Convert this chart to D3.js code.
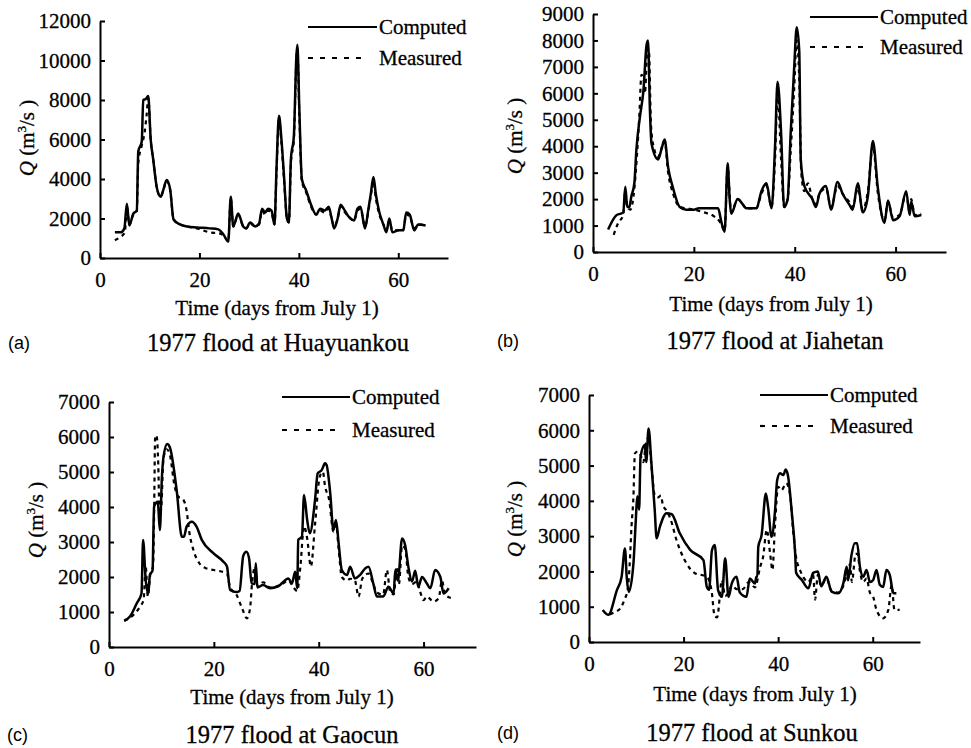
<!DOCTYPE html>
<html>
<head>
<meta charset="utf-8">
<script src="https://cdn.jsdelivr.net/npm/d3@7"></script>
<style>
  body { margin: 0; background: #fff; }
  svg text { font-family: "Liberation Serif", "Times New Roman", serif; fill: #000; stroke: #000; stroke-width: 0.3px; }
  .tag { font-family: "Liberation Sans", Arial, sans-serif; stroke-width: 0; }
  .axis path, .axis line { stroke: #000; stroke-width: 2; }
</style>
</head>
<body>
<svg id="chart" width="971" height="748"></svg>
<script>
// discharge Q (m3/s) vs time (days from July 1), 1977 flood
const xTicks = [0, 20, 40, 60];

const huayuankouComputed = [[3,1300],[4.2,1300],[4.9,1500],[5.4,2750],[5.9,1650],[6.7,2250],[7.4,2400],[7.7,5400],[8.4,5900],[8.7,8000],[9.2,8050],[9.7,8200],[10.2,6000],[10.7,5000],[11.4,3600],[12.2,3100],[12.8,3500],[13.4,3950],[14.1,3500],[14.8,1950],[16.1,1700],[17.5,1600],[19.5,1550],[22,1500],[23.8,1450],[24.8,1200],[25.8,830],[26.3,3100],[26.8,1600],[27.8,2250],[28.8,1600],[29.4,1500],[30.2,1800],[31.2,1600],[32,1750],[32.6,2500],[33.2,2300],[33.8,2500],[34.5,2400],[35.1,1700],[35.5,4500],[36,7200],[36.5,6000],[37,4200],[37.6,2000],[38,1800],[38.4,5000],[39,6200],[39.5,10200],[39.7,10800],[40.1,7500],[40.6,4000],[41.5,3400],[42.3,2800],[43.5,2200],[44.3,2500],[45.2,2400],[46,2600],[46.6,2000],[47.1,1500],[47.8,2000],[48.4,2700],[49,2500],[50,2100],[51.1,1900],[51.8,2500],[52.4,2600],[53.3,1500],[54,2500],[54.5,3300],[55,4100],[55.5,3200],[56.2,2300],[57,1700],[57.6,1300],[58.2,2000],[58.8,1300],[60,1400],[61,1400],[61.6,2300],[62.3,2200],[63.2,1400],[64,1700],[65.5,1650]];
const huayuankouMeasured = [[3,900],[4,1050],[5,1300],[5.4,2600],[5.9,1700],[6.7,2200],[7.4,2350],[7.7,4800],[8.4,5700],[9,6400],[9.4,7300],[9.7,8100],[10.2,6000],[10.7,5000],[11.4,3600],[12.2,3100],[12.8,3500],[13.4,3900],[14.1,3450],[14.8,1950],[16.1,1700],[17.5,1600],[19.5,1500],[22,1300],[24,1250],[25,1100],[25.8,850],[26.3,3000],[26.8,1600],[27.8,2200],[28.8,1600],[29.4,1500],[30.2,1750],[31.2,1600],[32,1700],[32.6,2400],[33.2,2200],[33.8,2400],[34.5,2300],[35.1,1700],[35.5,4300],[36,7000],[36.5,5800],[37,4000],[37.6,2000],[38,1800],[38.4,4800],[39,6000],[39.5,10000],[39.7,10600],[40.1,7200],[40.6,3900],[41.5,3300],[42.3,2700],[43.5,2200],[44.3,2400],[45.2,2300],[46,2500],[46.6,2000],[47.1,1600],[47.8,2000],[48.4,2600],[49,2400],[50,2100],[51.1,1900],[51.8,2400],[52.4,2500],[53.3,1600],[54,2400],[54.5,3200],[55,3900],[55.5,3000],[56.2,2200],[57,1700],[57.6,1400],[58.2,1900],[58.8,1400],[60,1400],[61,1400],[61.6,2200],[62.3,2100],[63.2,1500],[64,1700],[65.5,1650]];

const jiahetanComputed = [[3,850],[4.7,1400],[5.5,1450],[6,1500],[6.4,2470],[6.8,1700],[7.2,1700],[7.6,2100],[8.2,2600],[8.6,3860],[9.3,5100],[10,6100],[10.6,7800],[10.9,8000],[11.3,5300],[11.6,4100],[12.9,3500],[13.6,3900],[14.2,4250],[14.9,3200],[15.9,2400],[17.2,1700],[18.5,1600],[20,1600],[21,1650],[24.8,1650],[25.5,1100],[26.1,770],[26.7,3360],[27.1,2000],[27.4,1450],[28.7,2000],[29.7,1800],[30.4,1650],[32.4,1650],[33.4,2300],[34.4,2600],[35.4,1650],[36.1,4000],[36.6,6440],[37.3,4500],[37.9,1700],[38.6,2000],[39.2,4500],[39.9,7000],[40.4,8500],[40.9,7600],[41.2,3500],[41.9,2500],[43.5,2000],[44.2,1700],[44.9,2200],[46.2,2500],[47.2,1600],[48.5,2650],[49.5,2200],[50.8,1800],[51.5,1600],[52.5,2600],[53.5,1500],[54.5,2100],[55.5,4200],[56.5,2400],[57.8,1100],[58.5,1950],[59.5,1200],[60.8,1350],[62.1,2300],[62.8,1400],[63.1,1900],[63.8,1350],[65.1,1400]];
const jiahetanMeasured = [[4.1,650],[5,1100],[6,1400],[6.4,2300],[6.8,1700],[7.4,1600],[8.2,2400],[8.7,3600],[9.2,5200],[9.6,6700],[10,6600],[10.3,6000],[10.8,7700],[11.1,7600],[11.5,4800],[12,4000],[12.9,3600],[14.2,4200],[14.9,3000],[15.9,2200],[17.2,1700],[18.5,1650],[20,1600],[22,1500],[24,1350],[25.3,1100],[26.1,800],[26.7,3200],[27.4,1500],[28.7,2000],[29.7,1800],[30.4,1650],[32.4,1650],[33.4,2200],[34.4,2500],[35.4,1700],[36.1,3500],[36.6,6000],[37.3,3500],[37.9,1700],[38.6,2000],[39.2,3800],[39.9,6200],[40.4,8000],[40.9,6500],[41.3,3000],[41.9,2300],[42.6,2600],[43.5,2000],[44.2,1800],[44.9,2200],[46.2,2400],[47.2,1700],[48.5,2500],[49.5,2200],[50.8,1900],[51.5,1700],[52.5,2400],[53.5,1600],[54.5,2300],[55.5,4000],[56.5,2200],[57.8,1200],[58.5,1900],[59.5,1300],[60.8,1400],[62.1,2200],[62.8,1500],[63.1,2000],[63.8,1400],[65.1,1450]];

const gaocunComputed = [[2.9,750],[4,870],[5.3,1250],[6.2,1530],[6.5,3060],[7,1910],[7.5,1530],[7.8,2060],[8.3,2180],[8.6,4010],[9.3,4150],[9.7,3340],[10.1,4870],[10.4,5440],[11.1,5800],[11.6,5710],[12.9,4490],[13.9,3150],[14.3,3150],[14.8,3440],[15.8,3580],[16.7,3440],[17.7,3060],[19.9,2680],[21.8,2440],[22.5,2300],[23.1,1630],[24.3,1570],[24.9,1600],[25.6,2600],[26.2,2720],[26.7,2550],[27.2,1820],[27.8,1800],[28,2390],[28.3,1700],[29.4,1770],[30.7,1680],[32.6,1770],[34.2,1960],[34.9,1820],[35.5,2150],[35.9,1680],[36.1,3060],[36.8,3150],[37.2,4340],[37.8,3630],[38.3,3250],[39.3,4200],[39.8,4960],[40.6,5060],[41.2,5250],[41.5,5200],[42.2,4390],[42.8,3340],[43.3,3630],[43.8,2960],[44.4,2200],[45.4,2060],[46,2290],[46.9,1960],[47.9,2060],[48.9,2250],[49.5,2290],[50.4,1820],[51.1,1440],[52.3,1440],[53.3,1720],[54.3,1530],[54.6,2200],[55.1,1900],[55.9,3100],[56.5,2900],[57.1,2290],[57.8,1870],[58.4,2180],[59,1720],[59.7,2000],[60.6,1820],[61.3,1680],[62.2,2200],[63.2,2000],[63.8,1530],[64.8,1680]];
const gaocunMeasured = [[2.9,750],[4.6,910],[5.9,1150],[6.6,1350],[7,2300],[7.4,1450],[7.9,2100],[8.4,2300],[8.6,3800],[8.8,5960],[9.05,6050],[9.4,5200],[9.6,4000],[9.9,3900],[10.4,5400],[11,5650],[11.6,5500],[12.5,4600],[13.2,4300],[14.2,4200],[14.8,3900],[15.3,3300],[16.1,2770],[17.2,2400],[18.5,2250],[20,2200],[22.5,2100],[23.1,1700],[24.3,1500],[25.4,1100],[26.3,820],[26.9,1100],[27.3,1850],[27.9,2300],[28.3,1750],[29.4,1850],[30.7,1700],[32.6,1750],[34.2,1900],[35.2,1700],[35.9,1600],[36.5,2290],[37.2,3450],[37.8,3100],[38.5,2300],[39.3,3500],[40.2,4870],[40.8,5000],[41.2,4600],[42,4200],[42.8,3300],[43.3,3500],[43.8,2800],[44.4,2000],[45.4,1900],[46,1950],[46.9,1900],[47.6,1440],[48.3,1950],[49.5,2100],[50.4,1800],[51.1,1550],[52.3,1500],[53,2200],[53.6,1600],[54.3,1500],[54.9,2300],[55.3,1800],[55.9,2900],[56.5,2800],[57.1,2000],[57.8,1800],[58.7,1870],[59.3,1600],[60,1340],[60.6,1440],[61.9,1300],[62.9,1400],[63.5,1900],[64.1,1500],[65.2,1400]];

const sunkouComputed = [[2.9,910],[4.1,770],[5.9,1470],[6.9,1850],[7.6,2650],[8,1800],[8.4,1420],[9.4,2230],[9.9,3460],[10.2,4130],[10.6,3750],[10.9,5250],[11.8,5580],[12.1,5100],[12.6,6050],[13.2,5060],[13.9,3740],[14.3,2940],[15,3270],[16.4,3650],[17.5,3620],[19.2,3080],[21.4,2610],[24.2,2320],[24.9,1570],[25.4,1480],[26,2600],[26.6,2750],[27.3,1470],[28.1,1280],[28.8,2370],[29.5,1280],[30.2,1660],[31.2,1850],[31.9,1400],[33.3,1280],[34,1800],[35.1,1660],[35.4,1850],[35.6,1850],[35.8,2700],[36.5,3030],[37.4,4210],[37.9,3800],[38.6,2980],[39.3,3650],[39.8,4590],[40.4,4780],[41.1,4730],[41.6,4890],[42.1,4700],[42.9,3650],[43.6,2510],[43.8,1960],[45,1760],[46.4,1520],[47.4,1960],[48.4,2000],[49.1,1580],[50.2,1850],[51.3,1430],[52.7,1380],[53.8,1670],[54.5,2130],[54.8,1750],[55.5,2450],[56.2,2800],[56.7,2800],[57.3,2130],[58,1850],[58.7,2040],[59.4,1700],[60.1,1760],[60.8,2040],[61.5,1620],[62.2,1560],[62.9,2040],[63.6,1900],[64.4,1380],[65,1380]];
const sunkouMeasured = [[4.4,780],[5.5,850],[6.6,950],[7.5,1200],[8.2,1500],[8.6,2200],[9,3300],[9.4,4130],[9.7,5340],[10.3,5400],[10.9,5300],[11.5,5100],[12,5600],[12.6,5800],[13.2,5000],[13.9,4160],[14.6,4100],[15.2,4150],[15.6,3900],[16.5,3700],[17.2,3500],[18.5,2890],[20.6,2230],[22.4,1950],[24.9,1850],[25.9,1470],[26.6,720],[27.1,700],[28.1,1750],[28.8,1300],[29.5,1400],[30.2,1600],[31.2,1500],[32.5,1500],[33.8,1700],[35.1,1550],[36.2,2130],[36.8,2400],[37.6,3180],[38.3,2510],[38.8,2040],[39.3,3230],[40,4400],[40.7,4300],[41.7,4500],[42.5,4200],[43.2,3100],[43.8,2400],[44.6,2050],[45.5,1800],[46.4,1700],[47.4,1900],[47.8,1200],[48.4,1900],[49.1,1600],[50.2,1800],[51.3,1450],[52.7,1400],[53.8,1600],[54.5,1900],[55.2,2200],[55.6,1700],[56.4,2500],[56.8,2500],[57.3,2000],[58,1700],[58.7,1800],[59.4,1400],[60.1,1280],[60.8,910],[62.2,670],[63.3,910],[64,1610],[64.6,910],[65.7,910]];

const panels = [
  { tag: '(a)', title: '1977 flood at Huayuankou', computed: huayuankouComputed, measured: huayuankouMeasured,
    yMax: 12000, yStep: 2000, x0: 100, x1: 448, y0: 258, y1: 21,
    yLab: [27, 138], xLab: [277, 308], tagX: 8, titleX: 278, titleY: 343, leg: [308, 377, 367, 27, 58] },
  { tag: '(b)', title: '1977 flood at Jiahetan', computed: jiahetanComputed, measured: jiahetanMeasured,
    yMax: 9000, yStep: 1000, x0: 593, x1: 946, y0: 252, y1: 14,
    yLab: [515, 136], xLab: [771, 304], tagX: 497, titleX: 775, titleY: 341, leg: [810, 878, 869, 17, 47] },
  { tag: '(c)', title: '1977 flood at Gaocun', computed: gaocunComputed, measured: gaocunMeasured,
    yMax: 7000, yStep: 1000, x0: 109, x1: 476, y0: 647, y1: 402,
    yLab: [36, 520], xLab: [292, 697], tagX: 7, titleX: 292, titleY: 735, leg: [282, 350, 340, 397, 430] },
  { tag: '(d)', title: '1977 flood at Sunkou', computed: sunkouComputed, measured: sunkouMeasured,
    yMax: 7000, yStep: 1000, x0: 589, x1: 920, y0: 642, y1: 395,
    yLab: [515, 519], xLab: [755, 694], tagX: 497, titleX: 752, titleY: 733, leg: [760, 828, 818, 395, 426] }
];

const svg = d3.select('#chart');

function drawPanel(p) {
  const x = d3.scaleLinear().domain([0, 70]).range([p.x0, p.x1]);
  const y = d3.scaleLinear().domain([0, p.yMax]).range([p.y0, p.y1]);
  const g = svg.append('g');

  g.append('g').attr('class', 'axis')
    .attr('transform', 'translate(0,' + p.y0 + ')')
    .call(d3.axisBottom(x).tickValues(xTicks).tickSizeInner(-5).tickSizeOuter(0).tickPadding(14))
    .call(a => a.selectAll('text').attr('font-size', 21).attr('font-family', null));

  g.append('g').attr('class', 'axis')
    .attr('transform', 'translate(' + p.x0 + ',0)')
    .call(d3.axisLeft(y).tickValues(d3.range(0, p.yMax + 1, p.yStep)).tickFormat(d3.format('d'))
      .tickSizeInner(-5).tickSizeOuter(0).tickPadding(9))
    .call(a => a.selectAll('text').attr('font-size', 21).attr('font-family', null));

  const line = d3.line().x(d => x(d[0])).y(d => y(d[1])).curve(d3.curveMonotoneX);

  g.append('path').datum(p.measured).attr('d', line)
    .attr('fill', 'none').attr('stroke', '#000').attr('stroke-width', 2.2).attr('stroke-dasharray', '4,4');
  g.append('path').datum(p.computed).attr('d', line)
    .attr('fill', 'none').attr('stroke', '#000').attr('stroke-width', 2.5).attr('stroke-linejoin', 'round');

  // legend
  const [lx0, lx1, lx2, ly0, ly1] = p.leg;
  g.append('line').attr('x1', lx0).attr('x2', lx1).attr('y1', ly0).attr('y2', ly0)
    .attr('stroke', '#000').attr('stroke-width', 2.2);
  g.append('line').attr('x1', lx0).attr('x2', lx2).attr('y1', ly1).attr('y2', ly1)
    .attr('stroke', '#000').attr('stroke-width', 2.2).attr('stroke-dasharray', '5,7');
  g.append('text').attr('x', lx1 + 2).attr('y', ly0).attr('dy', '0.33em').attr('font-size', 21).text('Computed');
  g.append('text').attr('x', lx1 + 2).attr('y', ly1).attr('dy', '0.33em').attr('font-size', 21).text('Measured');

  // axis titles
  g.append('text').attr('x', p.xLab[0]).attr('y', p.xLab[1]).attr('dy', '0.33em')
    .attr('text-anchor', 'middle').attr('font-size', 21).text('Time (days from July 1)');

  const yl = g.append('text').attr('text-anchor', 'middle').attr('font-size', 21)
    .attr('transform', 'translate(' + p.yLab[0] + ',' + p.yLab[1] + ') rotate(-90)')
    .attr('dy', '0.33em');
  yl.append('tspan').attr('font-style', 'italic').text('Q');
  yl.append('tspan').text(' (m');
  yl.append('tspan').attr('font-size', 13).attr('dy', -8).text('3');
  yl.append('tspan').attr('dy', 8).text('/s )');

  // panel captions
  g.append('text').attr('class', 'tag').attr('x', p.tagX).attr('y', p.titleY).attr('dy', '0.35em')
    .attr('font-size', 18).text(p.tag);
  g.append('text').attr('x', p.titleX).attr('y', p.titleY).attr('dy', '0.33em')
    .attr('text-anchor', 'middle').attr('font-size', 24.5).text(p.title);
}

panels.forEach(drawPanel);
</script>
</body>
</html>
